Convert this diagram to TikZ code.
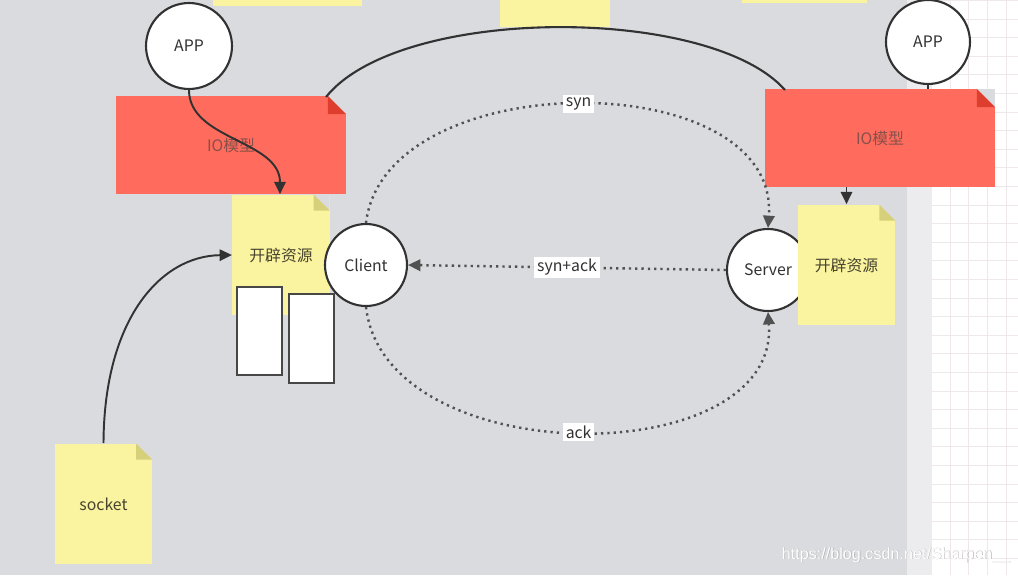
\documentclass[tikz,border=0pt]{standalone}
\usepackage{fontspec}
\setmainfont{Noto Sans CJK SC}
\newfontfamily\wmfont{Liberation Sans}
\usetikzlibrary{arrows.meta}
\definecolor{bgc}{RGB}{218,219,223}
\definecolor{stripc}{RGB}{236,236,238}
\definecolor{gridc}{RGB}{238,232,234}
\definecolor{notey}{RGB}{250,243,160}
\definecolor{foldy}{RGB}{214,208,122}
\definecolor{noter}{RGB}{255,107,92}
\definecolor{foldr}{RGB}{222,62,46}
\definecolor{inkc}{RGB}{50,50,50}
\newcommand{\notefold}[2]{% fold colour, fold size
  \fill[bgc] ([xshift=-#2]path picture bounding box.north east) -- (path picture bounding box.north east)
    -- ([yshift=-#2]path picture bounding box.north east) -- cycle;
  \fill[#1] ([xshift=-#2]path picture bounding box.north east) -- ([xshift=-#2,yshift=-#2]path picture bounding box.north east)
    -- ([yshift=-#2]path picture bounding box.north east) -- cycle;}

\begin{document}
\begin{tikzpicture}[x=0.02cm,y=-0.02cm,
    every node/.style={font=\fontsize{9}{11}\selectfont,text=inkc},
    yellownote/.style={fill=notey,inner sep=0pt,minimum width=1.95cm,minimum height=2.42cm,
      text=black!65!olive,path picture={\notefold{foldy}{0.32cm}}},
    rednote/.style={fill=noter,inner sep=0pt,minimum width=4.6cm,minimum height=1.96cm,
      text=black!45!noter!70!gray,path picture={\notefold{foldr}{0.36cm}}},
    ring/.style={circle,draw=inkc,line width=1.2pt,fill=white,inner sep=0pt,minimum size=#1},
    buffer/.style={draw=inkc!90,line width=1.1pt,fill=white,inner sep=0pt,minimum width=0.9cm},
    flow/.style={line width=1.1pt,draw=inkc,-{Triangle[length=7pt,width=6.5pt]}},
    hand/.style={line width=1.4pt,draw=inkc!85,dash pattern=on 1.3pt off 2.3pt,-{Triangle[length=7pt,width=6.5pt]}},
    tag/.style={fill=white,inner sep=1.5pt,text=inkc}]
  \useasboundingbox (0,0) rectangle (1018,575);
  \fill[white] (0,0) rectangle (1018,575);
  \fill[bgc] (0,0) rectangle (907,575); % canvas
  \fill[stripc] (907,0) rectangle (932,575);
  \foreach \gx in {950.2,968.8,...,1018} \draw[gridc,line width=0.5pt] (\gx,0)--(\gx,575);
  \foreach \gy in {0.4,19,...,575} \draw[gridc,line width=0.5pt] (932,\gy)--(1018,\gy);
  % cut off notes at the top
  \fill[notey] (213,0) rectangle (362,6);
  \fill[notey] (500,0) rectangle (610,27);
  \fill[notey] (742,0) rectangle (867,3);
  % notes
  \node[rednote] (io1) at (231,145) {IO模型};
  \node[rednote] (io2) at (880,138) {IO模型};
  \draw[line width=1.2pt,inkc] (326,97) .. controls (400,5) and (710,5) .. (785,90); % top curve
  \node[yellownote] (res1) at (281,255) {开辟资源};
  \node[ring=1.64cm] (srv) at (768,270) {Server};
  \node[yellownote] (res2) at (846.5,265) {开辟资源};
  \node[yellownote] (sock) at (103.5,504) {socket};
  \node[buffer,minimum height=1.76cm] (buf1) at (259.5,331) {};
  \node[buffer,minimum height=1.78cm] (buf2) at (311.5,338.5) {};
  % circles
  \node[ring=1.72cm] (app1) at (189,46) {APP};
  \node[ring=1.68cm] (app2) at (928,42) {APP};
  \node[ring=1.64cm] (cli) at (366,265) {Client};
  % connectors
  \draw[flow] (app1.south) .. controls (189,140) and (280,140) .. (res1.north -| 280,0);
  \draw[line width=1.1pt,inkc] (app2.south) -- (app2.south |- io2.north);
  \draw[flow] (res2.north |- io2.south) -- (res2.north);
  \draw[flow] (sock.north) .. controls (104,320) and (160,256) .. (res1.west);
  \draw[hand] (cli.north) .. controls (385,64) and (780,64) .. node[tag,pos=0.5]{syn} (srv.north);
  \draw[hand] (srv.west) -- node[tag,pos=0.5]{syn+ack} (cli.east);
  \draw[hand] (cli.south) .. controls (385,473) and (780,473) .. node[tag,pos=0.5]{ack} (srv.south);
  % watermark
  \node[font=\wmfont\fontsize{9.2}{11}\selectfont,text=gray!70,opacity=0.8] (wmshade) at (896.6,555.6) {https://blog.csdn.net/Sharpen\_\_};
  \node[font=\wmfont\fontsize{9.2}{11}\selectfont,text=white] (wm) at (896,555) {https://blog.csdn.net/Sharpen\_\_};
\end{tikzpicture}
\end{document}
